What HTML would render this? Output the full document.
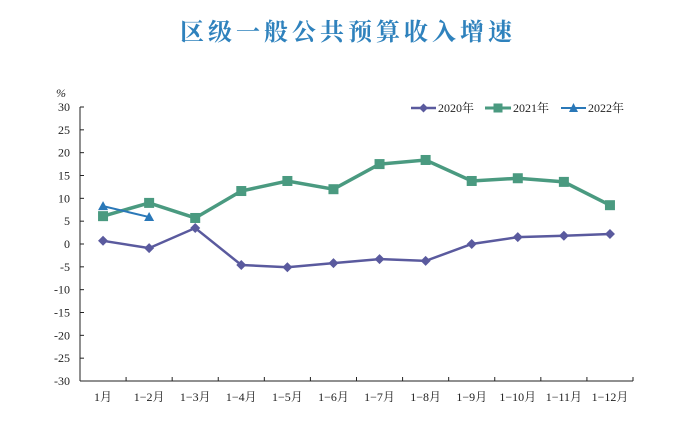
<!DOCTYPE html>
<html><head><meta charset="utf-8"><style>
body{margin:0;background:#fff;width:699px;height:421px;overflow:hidden}
svg text{font-family:"Liberation Serif","Noto Serif CJK SC",serif}
</style></head><body>
<svg width="699" height="421">
<text x="348" y="40" text-anchor="middle" font-size="24" font-weight="bold" letter-spacing="4" fill="#2f82bd" style="font-family:'Noto Serif CJK SC',serif">区级一般公共预算收入增速</text>
<text x="56" y="97" font-size="12" font-style="italic" fill="#222">%</text>
<g id="axes"></g><g id="series"></g>
<g>
<g><line x1="411" y1="108" x2="436" y2="108" stroke="#5a5a9e" stroke-width="2.5"/><path d="M423.5 103.5L428 108L423.5 112.5L419 108Z" fill="#5a5a9e"/><text x="438" y="112" font-size="12" fill="#222">2020年</text></g>
<g><line x1="485" y1="108" x2="511" y2="108" stroke="#4a9a80" stroke-width="3"/><rect x="493.5" y="103.5" width="9" height="9" fill="#4a9a80"/><text x="513" y="112" font-size="12" fill="#222">2021年</text></g>
<g><line x1="561" y1="108" x2="586" y2="108" stroke="#2a78b8" stroke-width="2"/><path d="M573.5 103L578 112L569 112Z" fill="#2a78b8"/><text x="588" y="112" font-size="12" fill="#222">2022年</text></g>
</g>
</svg>
<script>
const categories=["1月","1−2月","1−3月","1−4月","1−5月","1−6月","1−7月","1−8月","1−9月","1−10月","1−11月","1−12月"];
const s2020=[0.7,-0.9,3.5,-4.6,-5.1,-4.2,-3.3,-3.7,0,1.5,1.8,2.2];
const s2021=[6.1,9,5.7,11.6,13.8,12,17.5,18.4,13.8,14.4,13.6,8.5];
const s2022=[8.3,5.9];
const yTicks=[30,25,20,15,10,5,0,-5,-10,-15,-20,-25,-30];
const NS="http://www.w3.org/2000/svg";
const X0=80,X1=633,Y0=107,Y1=381;
const bw=(X1-X0)/categories.length;
const xs=i=>X0+bw*(i+0.5);
const ys=v=>Y0+(30-v)*(Y1-Y0)/60;
function mk(t,a,p){const e=document.createElementNS(NS,t);for(const k in a)e.setAttribute(k,a[k]);p.appendChild(e);return e;}
const ax=document.getElementById('axes'),se=document.getElementById('series');
let yl=mk('line',{x1:X0,y1:Y0,x2:X0,y2:Y1,stroke:'#222','stroke-width':1},ax);


let xl=mk('line',{x1:X0,y1:Y1,x2:X1,y2:Y1,stroke:'#222','stroke-width':1},ax);


yTicks.forEach(v=>{mk('line',{x1:X0,y1:ys(v),x2:X0+4,y2:ys(v),stroke:'#222'},ax);
const t=mk('text',{x:70,y:ys(v)+4,'text-anchor':'end','font-size':12,fill:'#222'},ax);t.textContent=v;

});
categories.forEach((c,i)=>{mk('line',{x1:X0+bw*(i+1),y1:Y1,x2:X0+bw*(i+1),y2:Y1-4,stroke:'#222'},ax);
const t=mk('text',{x:xs(i),y:Y1+20,'text-anchor':'middle','font-size':12,fill:'#222'},ax);t.textContent=c;

});
function series(d,col,w,shape,name){const g=mk('g',{},se);


mk('polyline',{points:d.map((v,i)=>xs(i)+','+ys(v)).join(' '),fill:'none',stroke:col,'stroke-width':w},g);
d.forEach((v,i)=>{const x=xs(i),y=ys(v);let m;
if(shape==='d')m=mk('path',{d:`M${x} ${y-5}L${x+5} ${y}L${x} ${y+5}L${x-5} ${y}Z`,fill:col},g);
else if(shape==='s')m=mk('rect',{x:x-5,y:y-5,width:10,height:10,fill:col},g);
else m=mk('path',{d:`M${x} ${y-5}L${x+5} ${y+4}L${x-5} ${y+4}Z`,fill:col},g);

});}
series(s2020,'#5a5a9e',2.5,'d','series-2020');
series(s2021,'#4a9a80',3.5,'s','series-2021');
series(s2022,'#2a78b8',2,'t','series-2022');
</script>
</body></html>
